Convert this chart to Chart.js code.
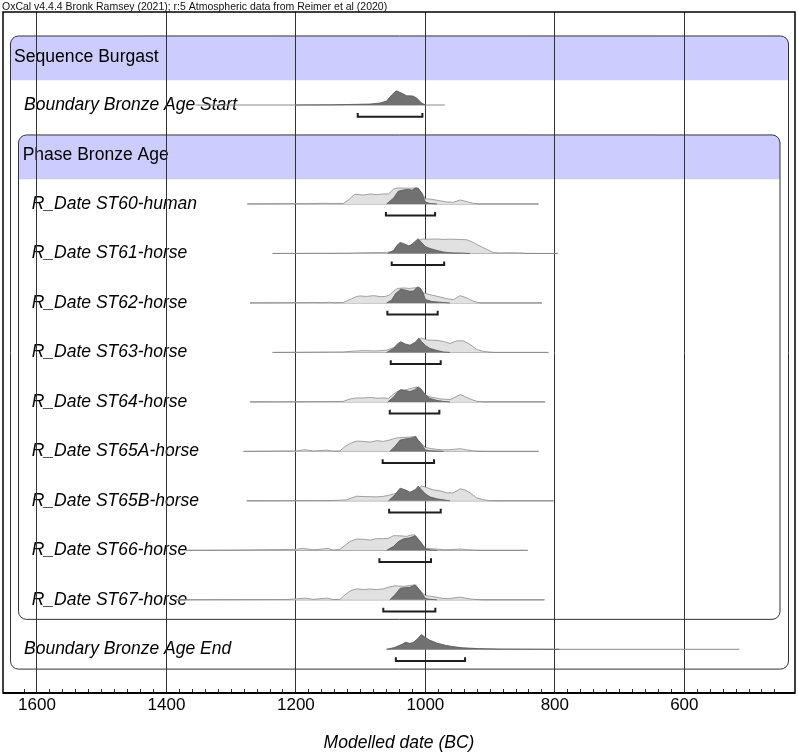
<!DOCTYPE html>
<html>
<head>
<meta charset="utf-8">
<script src="https://cdn.jsdelivr.net/npm/chart.js@4.4.0/dist/chart.umd.min.js"></script>
<style>
  html, body { margin: 0; padding: 0; background: #fff; }
  canvas { display: block; }
</style>
</head>
<body>
<canvas id="oxcal" width="798" height="752"></canvas>
<script>
// --- rows, top to bottom (0 = Sequence header)
const labels = [
  'Sequence Burgast',
  'Boundary Bronze Age Start',
  'Phase Bronze Age',
  'R_Date ST60-human',
  'R_Date ST61-horse',
  'R_Date ST62-horse',
  'R_Date ST63-horse',
  'R_Date ST64-horse',
  'R_Date ST65A-horse',
  'R_Date ST65B-horse',
  'R_Date ST66-horse',
  'R_Date ST67-horse',
  'Boundary Bronze Age End'
];
const caption = 'OxCal v4.4.4 Bronk Ramsey (2021); r:5 Atmospheric data from Reimer et al (2020)';
const axisTitle = 'Modelled date (BC)';

// full range of each distribution (years BC)
const spans = [null, [1355, 970], null, [1275, 825], [1236, 795], [1271, 820], [1236, 810],
  [1271, 815], [1281, 825], [1276, 802], [1370, 842], [1385, 816], [1060, 515]];
// 95.4% ranges (years BC)
const ranges95 = [null, [1104.5, 1004.6], null, [1061, 985], [1052, 971], [1058.7, 981], [1053.5, 976.3],
  [1055, 978.4], [1066, 986.6], [1056, 976.3], [1071, 991.3], [1065, 984.6], [1045.6, 938.7]];

// densities: [year BC, relative height]
const startPost = [[1200,0],[1142,0.2],[1106,0.7],[1085,1],[1070,2],[1060,4],[1052,10],[1045,14.3],[1037,12],[1029,9.3],[1019,9],[1013,6.7],[1006,2],[1000,0]];
const endPost = [[1060,0],[1048,1.7],[1036,5],[1031,7],[1024,6],[1019,6.7],[1013,10],[1006,14.7],[1001,12.3],[993,9],[981,6],[969,4],[958,2.7],[942,1.5],[918,0.7],[887,0.3],[832,0.1],[793,0]];

const st60Prior = [[1275,0],[1214,0.3],[1185,0.3],[1157,0.7],[1147,0.5],[1127,0.5],[1119,4],[1109,9.7],[1096,9],[1085,10],[1075,9.3],[1065,10],[1057,10],[1049,15],[1042,16],[1030,15.8],[1020,15.8],[1013,16.3],[1006,12],[1000,5],[993,5],[982,3.7],[967,2],[957,1.7],[946,4],[936,2.3],[926,0.7],[916,0],[825,0]];
const st60Post = [[1060,0],[1049,6],[1042,12.7],[1034,14],[1026,14.7],[1021,13.7],[1016,15.7],[1011,15.7],[1006,11],[1000,2],[993,0.5],[982,0]];

const st61Prior = [[1236,0],[1121,0.3],[1096,0.7],[1060,1],[1052,2],[1044,5],[1034,7],[1024,7],[1014,10],[1008,14],[1004,14.5],[1000,14.3],[993,14.3],[982,14.5],[972,14],[962,14.3],[946,14],[936,13.7],[926,11],[916,7.5],[905,4],[895,1],[885,0.5],[864,0.7],[849,0.3],[838,0],[795,0]];
const st61Post = [[1058,0],[1049,3],[1044,8],[1039,11],[1034,10],[1026,7.7],[1021,9],[1016,12],[1011,14.7],[1006,11],[1000,7],[993,5],[982,3],[972,1.5],[962,0.7],[941,0.3],[931,0]];

const st62Prior = [[1271,0],[1199,0.3],[1173,0.5],[1157,0.3],[1150,0.7],[1140,0.2],[1127,0.5],[1116,3.5],[1106,6.5],[1101,7],[1091,6.5],[1080,7.3],[1070,6.3],[1062,6.5],[1055,8],[1049,12],[1043,14.5],[1034,15],[1025,14.5],[1018,15],[1013,15.3],[1005,10],[1000,9.5],[993,8.3],[982,6.7],[967,4.3],[957,3.3],[946,7.3],[936,5],[926,1.7],[916,0],[820,0]];
const st62Post = [[1060,0],[1052,3],[1046,9.5],[1040,12.5],[1038,14],[1032,13],[1024,11.7],[1018,12],[1014,15],[1012,16],[1008,15],[1004,11],[1000,3.5],[990,1.5],[974,0.5],[962,0]];

const st63Prior = [[1236,0],[1127,0.5],[1106,1.5],[1096,1.8],[1075,1.5],[1060,2.3],[1055,3.5],[1044,6],[1034,6],[1024,6],[1014,10],[1006,14.5],[998,12.5],[982,12],[972,11],[962,9],[952,11.5],[946,11.7],[941,11.5],[931,8],[921,3],[910,1],[900,0.3],[890,0],[810,0]];
const st63Post = [[1060,0],[1049,4],[1044,8],[1038,10.7],[1031,8.5],[1024,7.3],[1016,10],[1010,14.3],[1006,11],[1000,7],[993,4],[982,2],[972,0.5],[962,0]];

const st64Prior = [[1271,0],[1199,0.2],[1127,0.5],[1116,3],[1106,4],[1096,4],[1085,4.5],[1075,3.7],[1065,4],[1057,3.5],[1049,8],[1041,11.3],[1034,11.5],[1013,15],[1006,9],[993,5],[977,3],[962,2.3],[946,7.3],[931,3],[921,0.7],[910,0],[815,0]];
const st64Post = [[1058,0],[1049,5],[1044,9],[1038,12.3],[1031,11.5],[1024,10.3],[1017,12],[1011,15],[1006,12.5],[1000,7],[993,3.5],[982,1.5],[972,0.5],[962,0]];

const st65aPrior = [[1281,0],[1199,0.5],[1186,1.7],[1173,0.3],[1152,1.3],[1142,0.2],[1132,0.5],[1124,5],[1116,8],[1106,10.3],[1096,10],[1085,9.3],[1075,10.7],[1065,10],[1057,11],[1049,12.7],[1044,13.5],[1034,14],[1024,14.3],[1016,15],[1008,9],[1000,4],[993,3],[982,2],[972,1.5],[962,1.7],[946,2.7],[936,1.5],[926,0.5],[910,0],[825,0]];
const st65aPost = [[1055,0],[1047,5],[1039,11.3],[1031,12.5],[1024,13],[1018,14],[1015,15],[1011,11],[1006,7],[1000,1.5],[993,0.7],[982,0.3],[972,0]];

const st65bPrior = [[1276,0],[1173,0.3],[1147,0.3],[1122,1],[1106,4.7],[1096,4.3],[1085,4.2],[1075,4],[1065,4.5],[1057,5.5],[1049,7],[1040,8],[1030,7],[1020,8],[1010,12],[1006,15],[998,13.3],[988,11],[977,10],[967,8],[957,8],[946,12],[939,11],[931,8],[921,3],[910,1],[900,0.3],[890,0],[802,0]];
const st65bPost = [[1057,0],[1047,6],[1039,12.7],[1031,11],[1024,8.7],[1016,11],[1011,14.7],[1006,11],[1000,7],[993,4],[982,2],[972,1],[962,0]];

const st66Prior = [[1370,0],[1300,0.2],[1199,1],[1189,2],[1173,0.5],[1157,1.5],[1152,2],[1142,0.3],[1132,1],[1124,5],[1116,9],[1106,11.3],[1096,11],[1085,10.3],[1075,11.7],[1065,11.7],[1057,12],[1049,14.7],[1039,14.5],[1029,14],[1021,15.5],[1016,15.3],[1008,9],[1000,2],[993,1.7],[982,1.3],[972,0.7],[962,0.7],[946,1.3],[936,0.7],[926,0.3],[916,0],[842,0]];
const st66Post = [[1060,0],[1049,4],[1042,8.7],[1034,11.5],[1024,12.5],[1018,14],[1016,14.7],[1011,11],[1004,5],[1000,1.5],[993,0.5],[982,0]];

const st67Prior = [[1385,0],[1300,0.2],[1214,0.3],[1199,1],[1186,1.7],[1173,0.5],[1152,1.7],[1142,0.3],[1132,0.5],[1124,5],[1116,9],[1106,11],[1096,10.3],[1085,10.7],[1075,10.3],[1065,11],[1055,13],[1047,14],[1034,13.5],[1024,14.3],[1016,15],[1008,9],[1000,4.3],[993,3.7],[982,2.5],[972,1.3],[962,1.5],[946,2.7],[936,1.5],[926,0.5],[910,0],[816,0]];
const st67Post = [[1055,0],[1047,5],[1039,11.5],[1031,12.3],[1024,12.5],[1018,14.3],[1015,14.7],[1008,9],[1000,1.5],[993,0.5],[982,0]];

const priors = [null, null, null, st60Prior, st61Prior, st62Prior, st63Prior, st64Prior,
  st65aPrior, st65bPrior, st66Prior, st67Prior, null];
const posteriors = [null, startPost, null, st60Post, st61Post, st62Post, st63Post, st64Post,
  st65aPost, st65bPost, st66Post, st67Post, endPost];

// --- layout
const AXIS_MIN = 429, AXIS_MAX = 1652.5;       // years BC, axis runs old -> young
const ROW_MIN = -0.88, ROW_MAX = 12.883;       // y scale in row units
const ROW_PX = 49.48;                           // pixels per row, for density heights
const BRACKET_DROP = 0.235, BRACKET_TICK = 0.075;
const FONT = '"Liberation Sans", Arial, Helvetica, sans-serif';

const toPts = (pairs, row) => pairs.map(([yr, h]) => ({ x: yr, y: row - h / ROW_PX }));

const datasets = [];
labels.forEach((_, r) => {
  if (spans[r]) {
    datasets.push({ data: [{ x: spans[r][0], y: r }, { x: spans[r][1], y: r }],
      borderColor: '#8a8a8a', borderWidth: 1, order: 5 });
  }
  if (priors[r]) {
    datasets.push({ data: toPts(priors[r], r), fill: { value: r },
      backgroundColor: '#e1e1e1', borderColor: '#8c8c8c', borderWidth: 0.8, order: 4 });
  }
  if (posteriors[r]) {
    datasets.push({ data: toPts(posteriors[r], r), fill: { value: r },
      backgroundColor: '#717171', borderColor: '#555', borderWidth: 0.8, order: 3 });
  }
  if (ranges95[r]) {
    const [a, b] = ranges95[r];
    const yb = r + BRACKET_DROP, yt = yb - BRACKET_TICK;
    datasets.push({ data: [{ x: a, y: yt }, { x: a, y: yb }, { x: b, y: yb }, { x: b, y: yt }],
      borderColor: '#1e1e1e', borderWidth: 2, order: 1 });
  }
});

function groupBox(ctx, x0, x1, top, headBottom, bottom) {
  const r = 8;
  // header band
  ctx.fillStyle = '#ccccff';
  ctx.beginPath();
  ctx.moveTo(x0, headBottom);
  ctx.lineTo(x0, top + r);
  ctx.arcTo(x0, top, x0 + r, top, r);
  ctx.lineTo(x1 - r, top);
  ctx.arcTo(x1, top, x1, top + r, r);
  ctx.lineTo(x1, headBottom);
  ctx.closePath();
  ctx.fill();
  // outline
  ctx.strokeStyle = '#333';
  ctx.lineWidth = 1;
  ctx.beginPath();
  ctx.moveTo(x0 + r, top);
  ctx.arcTo(x1, top, x1, bottom, r);
  ctx.arcTo(x1, bottom, x0, bottom, r);
  ctx.arcTo(x0, bottom, x0, top, r);
  ctx.arcTo(x0, top, x1, top, r);
  ctx.closePath();
  ctx.stroke();
}

const oxcalFrame = {
  id: 'oxcalFrame',
  beforeDraw(chart) {
    const { ctx, scales: { y } } = chart;
    const py = v => y.getPixelForValue(v);
    ctx.save();
    ctx.fillStyle = '#fff';
    ctx.fillRect(0, 0, chart.width, chart.height);

    groupBox(ctx, 10.5, 788.5, py(-0.395), py(0.5), py(12.4));
    groupBox(ctx, 18.5, 780, py(1.605), py(2.5), py(11.395));

    ctx.textBaseline = 'middle';
    ctx.fillStyle = '#000';
    labels.forEach((txt, r) => {
      if (r === 0) { ctx.font = `17.6px ${FONT}`; ctx.fillText(txt, 14, py(r) + 1.5); }
      else if (r === 2) { ctx.font = `17.5px ${FONT}`; ctx.fillText(txt, 22.7, py(r) + 0.5); }
      else if (r === 1 || r === 12) { ctx.font = `italic 17.5px ${FONT}`; ctx.fillText(txt, 24, py(r)); }
      else { ctx.font = `italic 17.5px ${FONT}`; ctx.fillText(txt, 31.7, py(r)); }
    });
    ctx.restore();
  },
  afterDraw(chart) {
    const { ctx, chartArea: a } = chart;
    ctx.save();
    ctx.strokeStyle = '#000';
    ctx.lineWidth = 1.5;
    ctx.strokeRect(a.left, a.top, a.right - a.left, a.bottom - a.top);
    ctx.lineWidth = 2;
    ctx.beginPath();
    ctx.moveTo(a.left, a.bottom);
    ctx.lineTo(a.right, a.bottom);
    ctx.stroke();
    ctx.font = `10.5px ${FONT}`;
    ctx.fillStyle = '#111';
    ctx.textBaseline = 'alphabetic';
    ctx.fillText(caption, 2, 9.5);
    ctx.restore();
  }
};

new Chart(document.getElementById('oxcal'), {
  type: 'line',
  data: { datasets },
  options: {
    responsive: false,
    animation: false,
    events: [],
    devicePixelRatio: 1,
    layout: { padding: { left: 3, right: 3, top: 12, bottom: 0 } },
    elements: {
      point: { radius: 0 },
      line: { tension: 0, fill: false, borderCapStyle: 'butt', borderJoinStyle: 'miter' }
    },
    plugins: { legend: { display: false }, tooltip: { enabled: false } },
    scales: {
      x: {
        type: 'linear', reverse: true, min: AXIS_MIN, max: AXIS_MAX, z: 1,
        afterBuildTicks: s => { s.ticks = s.ticks.filter(t => t.value % 20 === 0); },
        ticks: {
          stepSize: 20, autoSkip: false, maxRotation: 0, minRotation: 0, padding: 6,
          color: '#000', font: { family: FONT, size: 17 },
          callback: v => (v % 200 === 0 ? String(v) : '')
        },
        grid: {
          color: c => (c.tick && c.tick.value % 200 === 0 ? '#333' : 'rgba(0,0,0,0)'),
          tickColor: '#333', tickLength: -4, lineWidth: 1
        },
        border: { display: false },
        title: {
          display: true, text: axisTitle, color: '#000',
          font: { family: FONT, size: 17.5, style: 'italic' },
          padding: { top: 11.6, bottom: -2 }
        }
      },
      y: { type: 'linear', display: false, reverse: true, min: ROW_MIN, max: ROW_MAX }
    }
  },
  plugins: [oxcalFrame]
});
</script>
</body>
</html>
